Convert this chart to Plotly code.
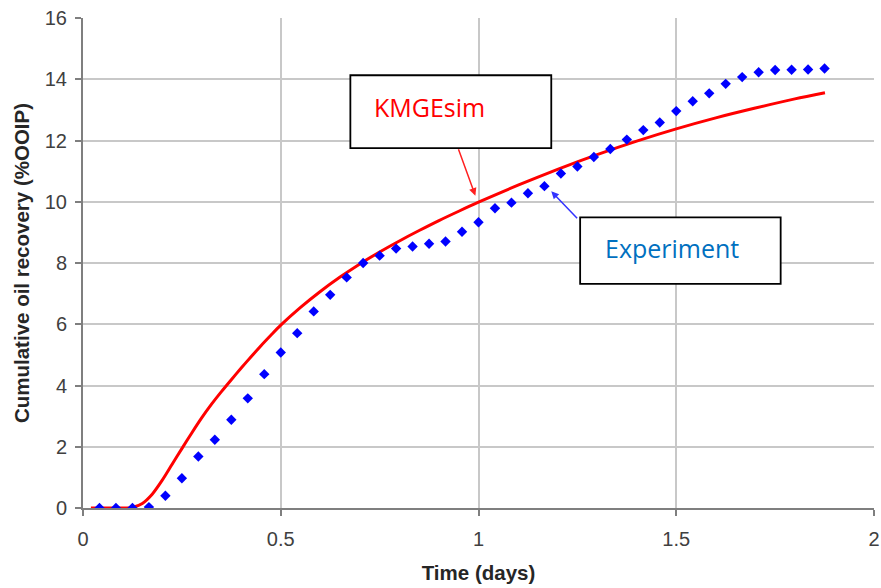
import plotly.graph_objects as go

# Experiment: measured hourly (t in days)
exp_hours = list(range(1, 46))
exp_time = [h / 24 for h in exp_hours]
exp_recovery = [0.0, 0.0, 0.0, 0.03, 0.40, 0.97, 1.68, 2.23, 2.88, 3.58,
                4.37, 5.08, 5.71, 6.42, 6.96, 7.53, 8.00, 8.24, 8.47, 8.54,
                8.63, 8.70, 9.02, 9.33, 9.79, 9.97, 10.28, 10.51, 10.92, 11.15,
                11.46, 11.72, 12.03, 12.34, 12.59, 12.96, 13.28, 13.54, 13.85, 14.07,
                14.23, 14.30, 14.31, 14.32, 14.35]

# KMGEsim simulation
sim_time = [0.02, 0.06, 0.10, 0.125, 0.15, 0.175, 0.20, 0.225, 0.25, 0.275,
            0.30, 0.325, 0.35, 0.375, 0.40, 0.425, 0.45, 0.475, 0.50, 0.55,
            0.60, 0.65, 0.70, 0.75, 0.80, 0.85, 0.90, 0.95, 1.00, 1.10,
            1.20, 1.30, 1.40, 1.50, 1.60, 1.70, 1.80, 1.876]
sim_recovery = [0.0, 0.0, 0.0, 0.02, 0.15, 0.45, 0.90, 1.42, 1.94, 2.45,
                2.94, 3.39, 3.80, 4.19, 4.57, 4.94, 5.30, 5.64, 5.97, 6.55,
                7.07, 7.54, 7.97, 8.36, 8.72, 9.06, 9.385, 9.69, 9.985, 10.54,
                11.06, 11.54, 11.98, 12.38, 12.74, 13.06, 13.36, 13.56]

x_ticks = [0, 0.5, 1, 1.5, 2]
x_tick_labels = ["0", "0.5", "1", "1.5", "2"]
y_ticks = [0, 2, 4, 6, 8, 10, 12, 14, 16]

fig = go.Figure()
fig.add_trace(go.Scatter(x=sim_time, y=sim_recovery, mode="lines",
                         line=dict(color="#FF0000", width=3, shape="spline", smoothing=0.8),
                         name="KMGEsim", showlegend=False))
fig.add_trace(go.Scatter(x=exp_time, y=exp_recovery, mode="markers",
                         marker=dict(symbol="diamond", color="#0000FF", size=8),
                         name="Experiment", showlegend=False))

grid = "#c8c8c8"
axis_dark = "#7f7f7f"
tick_font = dict(family="Liberation Sans, Arial, sans-serif", size=20, color="#404040")
title_font = dict(family="Liberation Sans, Arial, sans-serif", size=20.5, color="#262626")

# annotation boxes
fig.add_shape(type="rect", xref="x", yref="y", x0=0.676, x1=1.184, y0=11.75, y1=14.13,
              line=dict(color="black", width=1.8), fillcolor="white", layer="above")
fig.add_shape(type="rect", xref="x", yref="y", x0=1.257, x1=1.764, y0=7.32, y1=9.49,
              line=dict(color="black", width=1.8), fillcolor="white", layer="above")

fig.add_annotation(x=0.731, y=13.11, xref="x", yref="y", text="KMGEsim",
                   showarrow=False, xanchor="left", yanchor="middle",
                   font=dict(family="Open Sans, Noto Sans, sans-serif", size=25, color="#FF0000"))
fig.add_annotation(x=1.314, y=8.49, xref="x", yref="y", text="Experiment",
                   showarrow=False, xanchor="left", yanchor="middle",
                   font=dict(family="Open Sans, Noto Sans, sans-serif", size=25, color="#0070C0"))

# arrows
fig.add_annotation(x=0.992, y=10.2, xref="x", yref="y", ax=0.948, ay=11.76,
                   axref="x", ayref="y", text="", showarrow=True,
                   arrowhead=2, arrowsize=1, arrowwidth=1.5, arrowcolor="#FF2020")
fig.add_annotation(x=1.184, y=10.34, xref="x", yref="y", ax=1.253, ay=9.41,
                   axref="x", ayref="y", text="", showarrow=True,
                   arrowhead=2, arrowsize=1, arrowwidth=1.5, arrowcolor="#3333FF")

fig.update_xaxes(range=[0, 2], tickvals=x_ticks, ticktext=x_tick_labels,
                 showgrid=True, gridcolor=grid, gridwidth=1.5,
                 showline=True, linecolor=axis_dark, linewidth=2,
                 ticks="outside", ticklen=6, tickcolor=axis_dark, tickwidth=1.5,
                 tickfont=tick_font, zeroline=False, ticklabelstandoff=6,
                 title=dict(text="<b>Time (days)</b>", font=title_font, standoff=17))
fig.update_yaxes(range=[0, 16], tickvals=y_ticks,
                 showgrid=True, gridcolor=grid, gridwidth=1.5,
                 showline=True, linecolor=axis_dark, linewidth=2,
                 ticks="outside", ticklen=6, tickcolor=axis_dark, tickwidth=1.5,
                 tickfont=tick_font, zeroline=False, ticklabelstandoff=4,
                 title=dict(text="<b>Cumulative oil recovery (%OOIP)</b>", font=title_font, standoff=10))

fig.update_layout(width=881, height=588, autosize=False,
                  margin=dict(l=83, r=7, t=18, b=80, autoexpand=False),
                  plot_bgcolor="white", paper_bgcolor="white")

fig.write_html("out.html")
